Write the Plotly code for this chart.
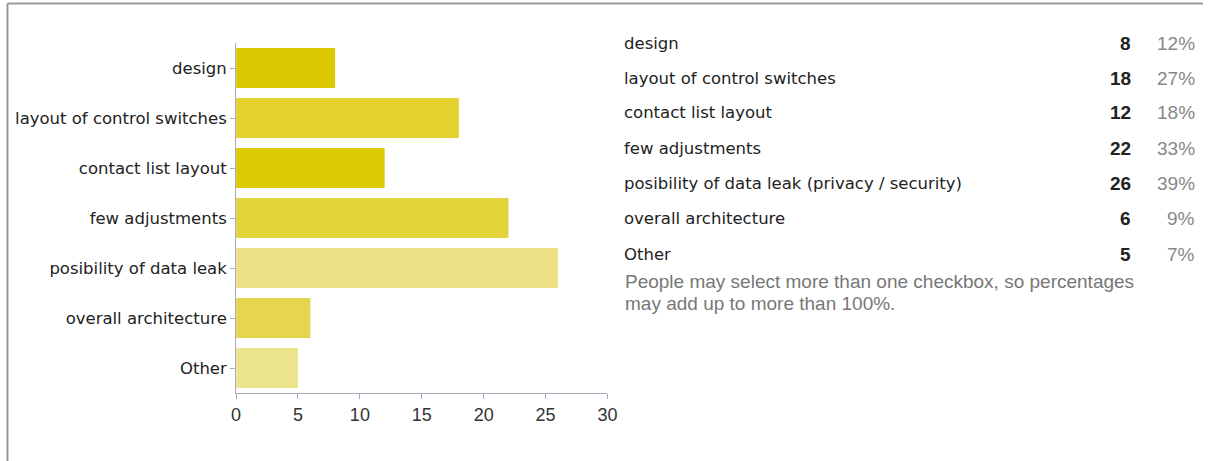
import plotly.graph_objects as go

chart_labels = ["design", "layout of control switches", "contact list layout",
                "few adjustments", "posibility of data leak", "overall architecture", "Other"]
table_labels = ["design", "layout of control switches", "contact list layout",
                "few adjustments", "posibility of data leak (privacy / security)",
                "overall architecture", "Other"]
counts = [8, 18, 12, 22, 26, 6, 5]
percents = ["12%", "27%", "18%", "33%", "39%", "9%", "7%"]
bar_colors = ["#DCC800", "#E3D22E", "#DEC905", "#E3D33A", "#EBE083", "#E5D64D", "#EDE58E"]
x_ticks = [0, 5, 10, 15, 20, 25, 30]
note_lines = ["People may select more than one checkbox, so percentages",
              "may add up to more than 100%."]

W, H = 1213, 461

fig = go.Figure()
fig.add_trace(go.Bar(
    x=counts, y=chart_labels, orientation="h",
    marker=dict(color=bar_colors, line=dict(width=0)),
    hoverinfo="x+y",
))

fig.update_layout(
    width=W, height=H,
    margin=dict(l=0, r=0, t=0, b=0),
    paper_bgcolor="white", plot_bgcolor="white",
    showlegend=False,
    bargap=0.2,
    font=dict(family="DejaVu Sans", color="#222"),
    xaxis=dict(
        domain=[234 / W, 610 / W],
        range=[0, 30], tickvals=x_ticks,
        showgrid=False, zeroline=False,
        showline=True, linecolor="#AAB", linewidth=1,
        ticks="outside", ticklen=5, tickcolor="#AAB",
        tickfont=dict(family="Liberation Sans", size=18, color="#333"),
    ),
    yaxis=dict(
        domain=[(H - 393) / H, (H - 43) / H],
        autorange="reversed",
        showgrid=False, zeroline=False,
        showline=True, linecolor="#AAB", linewidth=1,
        ticks="outside", ticklen=5, tickcolor="#AAB",
        tickfont=dict(family="DejaVu Sans", size=16.5, color="#222"),
    ),
)

row_y = [43, 78, 113, 148.5, 183.5, 218.5, 254]
for i, lab in enumerate(table_labels):
    yy = 1 - row_y[i] / H
    fig.add_annotation(x=625 / W, y=yy, xref="paper", yref="paper", text=lab,
                       xanchor="left", yanchor="middle", showarrow=False,
                       font=dict(family="DejaVu Sans", size=16.5, color="#222"))
    fig.add_annotation(x=1142 / W, y=yy, xref="paper", yref="paper", text="<b>%d</b>" % counts[i],
                       xanchor="right", yanchor="middle", showarrow=False,
                       font=dict(family="Liberation Sans", size=19, color="#222"))
    fig.add_annotation(x=1207 / W, y=yy, xref="paper", yref="paper", text=percents[i],
                       xanchor="right", yanchor="middle", showarrow=False,
                       font=dict(family="Liberation Sans", size=19, color="#888"))

for j, line in enumerate(note_lines):
    fig.add_annotation(x=626 / W, y=1 - (281.5 + 22 * j) / H, xref="paper", yref="paper",
                       text=line, xanchor="left", yanchor="middle", showarrow=False,
                       font=dict(family="Liberation Sans", size=19, color="#777"))

# frame (left and top edges)
fig.add_shape(type="line", xref="paper", yref="paper", x0=2.5 / W, x1=2.5 / W, y0=0, y1=1 - 3.5 / H,
              line=dict(color="#999", width=2))
fig.add_shape(type="line", xref="paper", yref="paper", x0=2.5 / W, x1=1, y0=1 - 3.5 / H, y1=1 - 3.5 / H,
              line=dict(color="#999", width=2))

fig.write_html("out.html")
